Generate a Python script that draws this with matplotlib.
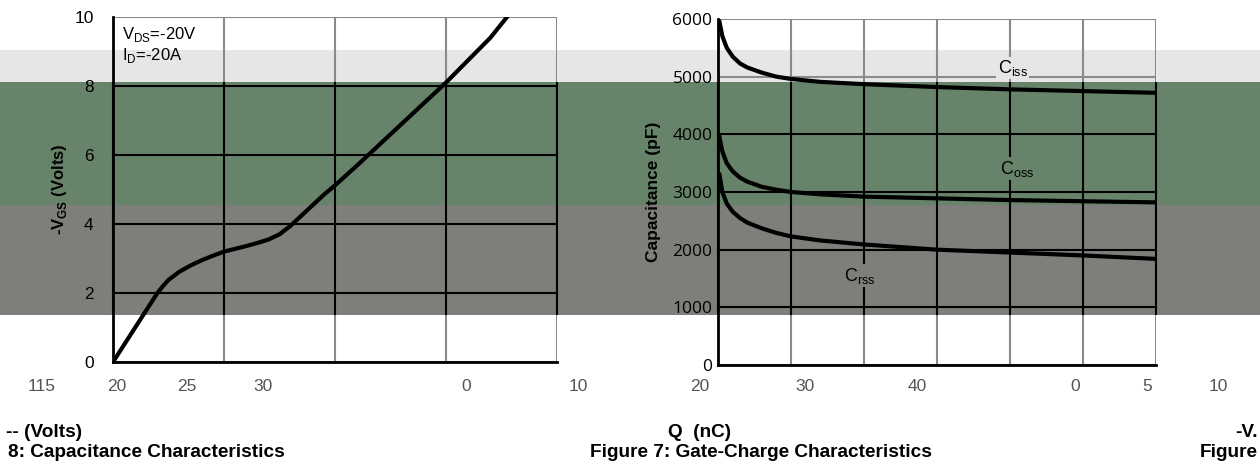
import numpy as np
import matplotlib.pyplot as plt
from matplotlib.patches import Rectangle

plt.rcParams['font.family'] = ['Liberation Sans', 'DejaVu Sans']
plt.rcParams['mathtext.fontset'] = 'custom'
plt.rcParams['mathtext.rm'] = 'Liberation Sans'
plt.rcParams['mathtext.bf'] = 'Liberation Sans:bold'

# gate charge curve (Qg in nC, -VGS in V)
qg = [0, 2, 3, 4, 4.5, 5, 6, 7, 8, 9, 10, 11, 12, 13, 14, 15, 16, 17, 18, 19, 20,
      22, 24, 26, 28, 30, 32, 34, 35.5]
vgs = [0, 1, 1.5, 2, 2.2, 2.38, 2.62, 2.8, 2.95, 3.08, 3.2, 3.28, 3.36, 3.45, 3.55, 3.7,
       3.95, 4.25, 4.55, 4.85, 5.12, 5.7, 6.3, 6.9, 7.5, 8.1, 8.75, 9.4, 10]

# capacitance curves (-VDS in V, pF)
vds = [0.1, 0.3, 0.6, 1, 1.5, 2, 3, 4, 5, 7, 10, 15, 20, 25, 30]
ciss = [5950, 5700, 5500, 5350, 5230, 5160, 5070, 5000, 4960, 4910, 4870, 4820, 4780, 4750, 4720]
coss = [3950, 3700, 3500, 3360, 3250, 3180, 3090, 3040, 3000, 2960, 2920, 2890, 2860, 2840, 2820]
crss = [3300, 3000, 2800, 2660, 2550, 2470, 2370, 2290, 2230, 2160, 2090, 2000, 1950, 1900, 1840]

left_ticks = [("115", 42), ("20", 117), ("25", 187), ("30", 263), ("0", 466), ("10", 578)]
right_ticks = [("20", 700), ("30", 805), ("40", 917), ("0", 1075), ("5", 1147), ("10", 1218)]

W, H = 1260, 465
fig = plt.figure(figsize=(12.6, 4.65), dpi=100)

def fy(y):
    return (H - y) / H

# background bands across the whole figure
bands = [(50, 82, '#e6e6e6'), (82, 205, '#67836a'), (205, 315, '#7e7f7a')]
for top, bot, col in bands:
    fig.patches.append(Rectangle((0, fy(bot)), 1, (bot - top) / H, transform=fig.transFigure,
                                 facecolor=col, edgecolor='none', zorder=-5))

def make_axes(x0, x1, ytop, ybot):
    ax = fig.add_axes([x0 / W, fy(ybot), (x1 - x0) / W, (ybot - ytop) / H])
    ax.set_facecolor('none')
    ax.set_zorder(2)
    return ax

def grid(ax, xs, ys):
    clip = Rectangle((0, fy(315)), 1, (315 - 82) / H, transform=fig.transFigure)
    for col, clipped in [('#8a8a8a', False), ('black', True)]:
        lines = []
        for x in xs:
            lines += ax.plot([x, x], [ys[0], ys[-1]], color=col, lw=1.5, zorder=1)
        for y in ys:
            lines += ax.plot([xs[0], xs[-1]], [y, y], color=col, lw=1.5, zorder=1)
        if clipped:
            for ln in lines:
                ln.set_clip_path(clip)
    for s in ['top', 'right']:
        ax.spines[s].set_visible(False)
    for s in ['left', 'bottom']:
        ax.spines[s].set_linewidth(2)
    ax.tick_params(length=0)
    ax.set_xticks([])

# Left: gate-charge characteristics
ax1 = make_axes(113, 557, 17, 362)
ax1.set_xlim(0, 40)
ax1.set_ylim(0, 10)
grid(ax1, [0, 10, 20, 30, 40], [0, 2, 4, 6, 8, 10])
ax1.plot(qg, vgs, color='black', lw=3, zorder=3, solid_joinstyle='round')
ax1.set_yticks([0, 2, 4, 6, 8, 10])
ax1.set_yticklabels(['0', '2', '4', '6', '8', '10'], fontsize=12.5)
ax1.tick_params(axis='y', pad=14)
ax1.set_ylabel(r'-V$_{\mathbf{GS}}$ (Volts)', fontsize=12, fontweight='bold', labelpad=4)
ax1.text(0.8, 9.35, r'V$_{\mathrm{DS}}$=-20V', fontsize=12)
ax1.text(0.8, 8.75, r'I$_{\mathrm{D}}$=-20A', fontsize=12)

# Right: capacitance characteristics
ax2 = make_axes(718, 1156, 19, 365)
ax2.set_xlim(0, 30)
ax2.set_ylim(0, 6000)
grid(ax2, [0, 5, 10, 15, 20, 25, 30], [0, 1000, 2000, 3000, 4000, 5000, 6000])
for c in [ciss, coss, crss]:
    ax2.plot(vds, c, color='black', lw=3, zorder=3, solid_joinstyle='round')
ax2.set_yticks([0, 1000, 2000, 3000, 4000, 5000, 6000])
ax2.set_yticklabels(['0', '1000', '2000', '3000', '4000', '5000', '6000'],
                    fontsize=12.5, family=['Open Sans', 'DejaVu Sans'])
ax2.tick_params(axis='y', pad=4)
ax2.set_ylabel('Capacitance (pF)', fontsize=12.5, fontweight='bold', labelpad=8)
ax2.text(20.2, 5150, r'C$_{\mathrm{iss}}$', fontsize=13, ha='center', va='center', zorder=4,
         bbox=dict(facecolor='#e6e6e6', edgecolor='none', pad=1))
ax2.text(20.5, 3400, r'C$_{\mathrm{oss}}$', fontsize=13, ha='center', va='center', zorder=4,
         bbox=dict(facecolor='#67836a', edgecolor='none', pad=1))
ax2.text(9.7, 1550, r'C$_{\mathrm{rss}}$', fontsize=13, ha='center', va='center', zorder=4,
         bbox=dict(facecolor='#7e7f7a', edgecolor='none', pad=1))

# x tick labels (scattered)
for txt, x in left_ticks + right_ticks:
    fig.text(x / W, fy(386), txt, fontsize=12.5, color='#555555', ha='center', va='center')

# bottom captions
cap = dict(fontsize=13.7, fontweight='bold', va='center')
fig.text(6 / W, fy(432), '-- (Volts)', **cap)
fig.text(668 / W, fy(432), 'Q  (nC)', **cap)
fig.text(1258 / W, fy(432), '-V.', ha='right', **cap)
fig.text(8 / W, fy(452), '8: Capacitance Characteristics', **cap)
fig.text(590 / W, fy(452), 'Figure 7: Gate-Charge Characteristics', **cap)
fig.text(1258 / W, fy(452), 'Figure', ha='right', **cap)

fig.savefig('out.png', dpi=100)
